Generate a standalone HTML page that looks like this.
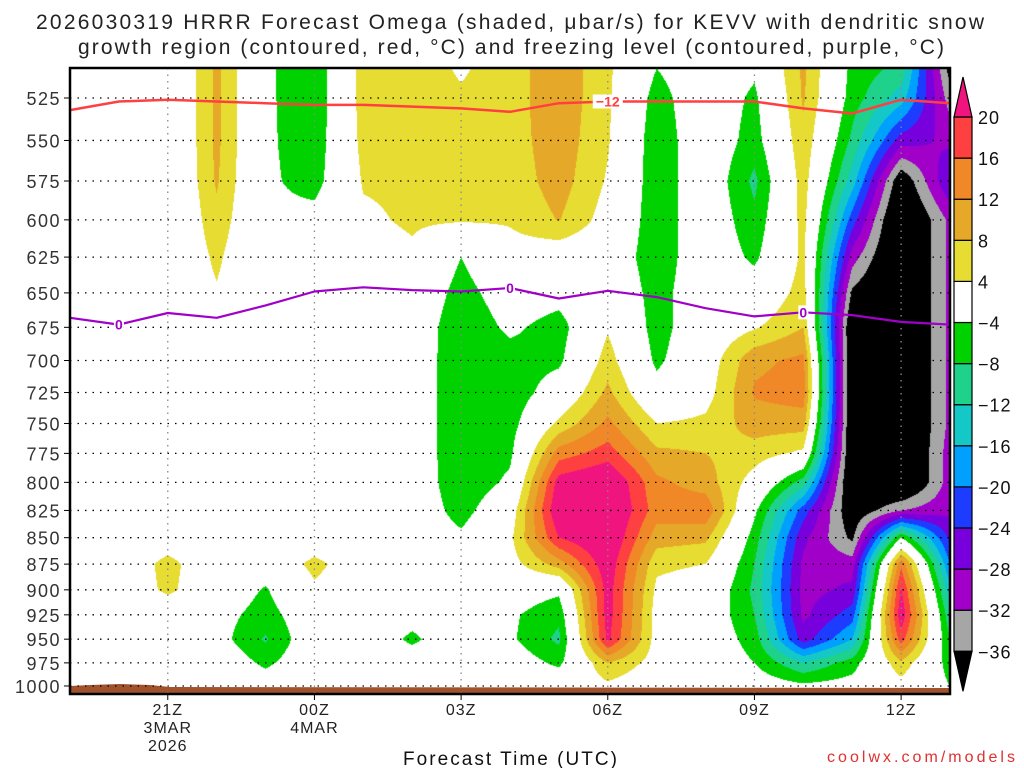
<!DOCTYPE html>
<html><head><meta charset="utf-8">
<style>
html,body{margin:0;padding:0;background:#fff;}
#wrap{position:relative;width:1024px;height:768px;overflow:hidden;font-family:"Liberation Sans",sans-serif;}
#cv{position:absolute;left:70px;top:68px;}
#ov{position:absolute;left:0;top:0;}
</style></head>
<body>
<div id="wrap">
<canvas id="cv" width="880" height="626"></canvas>
<svg id="ov" width="1024" height="768"></svg>
</div>
<script>
// ---- data ----
const levels = [500,525,550,575,600,625,650,675,700,725,750,775,800,825,850,875,900,925,950,975,1000];
const hours = ["19Z","20Z","21Z","22Z","23Z","00Z","01Z","02Z","03Z","04Z","05Z","06Z","07Z","08Z","09Z","10Z","11Z","12Z","13Z"];
// omega per hour (columns), rows follow levels
const omega = [
 [0,0,0,0,0,0,0,0,0,0,0,0,0,0,0,0,0,0,0,0,0],
 [0,0,0,0,0,0,0,0,0,0,0,0,0,0,0,0,0,0,0,0,0],
 [-3,-3,-3,-3,-3,-2,0,0,0,0,0,0,0,0,1,5.5,5,0,0,0,0],
 [9,9,9,8.5,7,5,3.5,0,0,0,0,0,0,0,0,0,0,-2,-2,0,0],
 [-3,-3,-3,-3,-3,-3,-1,0,0,0,0,0,0,0,0,-1,-4.5,-6,-8.5,-5,-1],
 [-7.5,-7.5,-7,-6,-2,0,0,0,0,0,0,0,0,0,0,5.5,3,0,0,0,0],
 [6,6,5.5,4.5,3,1,0,0,0,0,0,0,0,0,0,0,0,0,0,0,0],
 [6,6,5.5,5,4.8,3,1,0,0,0,0,0,0,0,0,0,0,-2,-5,-1,0],
 [3,4.5,5.5,5,4.5,-4,-6,-7.5,-7.8,-7.8,-7.8,-7.8,-7.5,-6,-3,0,0,0,0,0,0],
 [6,6,6,5.5,4.5,2,-1,-3,-6,-7,-6,-5,-3,1,3,2,-1,-3.2,-3.2,-1,0],
 [11,11,10.5,10,8.2,0.5,-2,-6,-5,-1,5,14,22,24,20,10,-3,-7,-9,-5,0],
 [5,4.8,4.5,3.5,2,0,1,3.5,6,9,13,18,25,26,25,23,22,22,21,8,3],
 [-3,-6,-7,-7,-7,-7,-6,-6,-5,-2,4,9,13,14,10,5,3,2,2,2,0],
 [0,0,0,0,0,0,0,0,1,2,5,8,10,15,9,4,1,0,0,0,0],
 [-2,-5,-6,-9,-7,-5,-1,3.5,11,12.5,10,6,2,-3,-6,-8,-9,-8,-6,-4,-1],
 [9,8.5,7,6,5.5,5,6,8,13,14,10,3,-10,-22,-27,-29,-29.5,-29,-26,-12,-3],
 [-5,-6,-9,-14,-22,-30,-37,-42,-42,-42,-42,-42,-42,-40,-37,-30,-27,-22,-16,-6,-2],
 [-7,-14,-26,-40,-44,-44,-44,-44,-44,-44,-44,-44,-44,-32,-4,15,20.5,23,18,7,2],
 [-40,-34,-29,-24,-31,-31,-31,-31,-31,-31,-31,-30,-30,-29,-25,-20,-15,-11,-8,-6,-4]
];
// -12 C (dendritic growth) isotherm pressure per hour
const dgzPressure = [532,527,526,527,528,529,529,530,531,533,528,527,527,527,527,531,534,526,528];
// 0 C freezing level pressure per hour
const frzPressure = [668,673,664.5,668,659,649,646,648,649,646.5,654,648.5,653,661,667,664,666,671,673];
const yTicks = [525,550,575,600,625,650,675,700,725,750,775,800,825,850,875,900,925,950,975,1000];
const xTickHours = [2,5,8,11,14,17];
const xTickLabels = [["21Z","3MAR","2026"],["00Z","4MAR"],["03Z"],["06Z"],["09Z"],["12Z"]];
const cbLevels = [-36,-32,-28,-24,-20,-16,-12,-8,-4,4,8,12,16,20];
const cbColors = ["#000000","#a6a6a6","#a000c8","#7800dc","#1e3cff","#00a0ff","#14c8c8","#1ed28c","#00d200","#ffffff","#e6dc32","#e6a828","#f08828","#ff4040","#f0147f"];

// ---- axes ----
const X0=70,X1=950,Y0=68,Y1=694;
function xOf(h){return X0+h*(X1-X0)/18;}
function yOf(p){return 98+912.5*Math.log(p/525);}
function hex(c){return [parseInt(c.substr(1,2),16),parseInt(c.substr(3,2),16),parseInt(c.substr(5,2),16)];}

// ---- shading ----
const cv=document.getElementById('cv');const ctx=cv.getContext('2d');
const W=cv.width,H=cv.height;const img=ctx.createImageData(W,H);
const rgb=cbColors.map(hex);
const ly=levels.map(yOf);
for(let py=0;py<H;py++){
  const y=py+Y0+0.5;
  let r=0;while(r<ly.length-2&&y>ly[r+1])r++;
  let fy=(y-ly[r])/(ly[r+1]-ly[r]);fy=Math.max(0,Math.min(1,fy));
  for(let px=0;px<W;px++){
    const h=(px+0.5)*18/W;let c=Math.min(17,Math.floor(h));const fx=h-c;
    const v=(omega[c][r]*(1-fx)+omega[c+1][r]*fx)*(1-fy)+(omega[c][r+1]*(1-fx)+omega[c+1][r+1]*fx)*fy;
    let i=0;while(i<cbLevels.length&&v>=cbLevels[i])i++;
    const k=(py*W+px)*4;const col=rgb[i];
    img.data[k]=col[0];img.data[k+1]=col[1];img.data[k+2]=col[2];img.data[k+3]=255;
  }
}
ctx.putImageData(img,0,0);

// ---- overlay ----
const NS="http://www.w3.org/2000/svg";const svg=document.getElementById('ov');
function mk(tag,attrs,parent){const e=document.createElementNS(NS,tag);for(const k in attrs)e.setAttribute(k,attrs[k]);(parent||svg).appendChild(e);return e;}
// ground
let g=mk('path',{d:`M70 686 L90 685 L120 684 L150 685 L170 687 L950 688 L950 693 L70 693 Z`,fill:'#a0522d'});


// grid
yTicks.forEach(p=>{const y=yOf(p);
  const l=mk('line',{x1:X0,x2:X1,y1:y,y2:y,stroke:'#000','stroke-width':1.3,'stroke-dasharray':'1.5 6'});
  
  
  const t=mk('line',{x1:X0-6,x2:X0,y1:y,y2:y,stroke:'#000','stroke-width':1});
  
  
  const tx=mk('text',{x:X0-9,y:y+7,'text-anchor':'end','font-size':18,'letter-spacing':1.5,fill:'#333'});tx.textContent=p;
  
  
});
xTickHours.forEach((h,i)=>{const x=xOf(h);
  const l=mk('line',{x1:x,x2:x,y1:Y0,y2:Y1,stroke:'#888','stroke-width':1.3,'stroke-dasharray':'1.5 5'});
  
  
  const t=mk('line',{x1:x,x2:x,y1:Y1,y2:Y1+6,stroke:'#000','stroke-width':1});
  
  
  xTickLabels[i].forEach((s,j)=>{const tx=mk('text',{x:x,y:Y1+21+j*18,'text-anchor':'middle','font-size':16,'letter-spacing':1,fill:'#222'});tx.textContent=s;
    
    });
});
// contour lines
function line(arr,color,w,name){let d='';arr.forEach((p,i)=>{d+=(i?'L':'M')+xOf(i).toFixed(1)+' '+yOf(p).toFixed(1);});
  const e=mk('path',{d:d,fill:'none',stroke:color,'stroke-width':w,'stroke-linejoin':'round'});
  
  }
line(dgzPressure,'#ff4040',2.5,'dgz-minus12-contour');
line(frzPressure,'#a000c8',2.2,'freezing-level-contour');
function lab(h,arr,txt,color,name){const x=xOf(h),y=yOf(arr[h]);
  const b=mk('rect',{x:x-txt.length*5,y:y-7,width:txt.length*10,height:14,fill:'#fff'});
  
  
  const t=mk('text',{x:x,y:y+5,'text-anchor':'middle','font-size':14,'font-weight':'bold',fill:color});t.textContent=txt;
  
  }
lab(11,dgzPressure,'\u221212','#ff4040','dgz-contour-label');
lab(1,frzPressure,'0','#a000c8','freezing-label');
lab(9,frzPressure,'0','#a000c8','freezing-label');
lab(15,frzPressure,'0','#a000c8','freezing-label');
// frame
const fr=mk('rect',{x:X0,y:Y0,width:X1-X0,height:Y1-Y0,fill:'none',stroke:'#000','stroke-width':2.5});


// colorbar
const CBX=954,CBW=18,CBTOP=117,CBSTEP=41.1;
const cbg=mk('g',{});
for(let i=1;i<cbColors.length-1;i++){
  const yb=CBTOP+(cbLevels.length-1-i)*CBSTEP;
  const r=mk('rect',{x:CBX,y:yb,width:CBW,height:CBSTEP,fill:cbColors[i],stroke:'#000','stroke-width':1.2},cbg);
  
  
}
const cbBot=CBTOP+(cbLevels.length-1)*CBSTEP;
let tri=mk('path',{d:`M${CBX} ${CBTOP} L${CBX+CBW/2} ${CBTOP-40} L${CBX+CBW} ${CBTOP} Z`,fill:cbColors[cbColors.length-1],stroke:'#000','stroke-width':1.2},cbg);


tri=mk('path',{d:`M${CBX} ${cbBot} L${CBX+CBW/2} ${cbBot+40} L${CBX+CBW} ${cbBot} Z`,fill:cbColors[0],stroke:'#000','stroke-width':1.2},cbg);


cbLevels.forEach((v,i)=>{const y=CBTOP+(cbLevels.length-1-i)*CBSTEP;
  const t=mk('text',{x:CBX+CBW+6,y:y+7,'font-size':18,'letter-spacing':1,fill:'#111'},cbg);t.textContent=(v<0?'\u2212':'')+Math.abs(v);
  
  });
// titles
function txt(x,y,s,sz,fill,anchor,len,name){const t=mk('text',{x:x,y:y,'font-size':sz,fill:fill,'text-anchor':anchor,textLength:len,lengthAdjust:'spacing'});t.textContent=s;
  
  }
txt(510,29,'2026030319 HRRR Forecast Omega (shaded, \u03bcbar/s) for KEVV with dendritic snow',21,'#222','middle',948,'chart-title-line1');
txt(511,54,'growth region (contoured, red, \u00b0C) and freezing level (contoured, purple, \u00b0C)',21,'#222','middle',866,'chart-title-line2');
txt(510,765,'Forecast Time (UTC)',19,'#111','middle',214,'x-axis-title');
txt(1015,762,'coolwx.com/models',16,'#e03030','end',188,'credit-text');
</script>
</body></html>
